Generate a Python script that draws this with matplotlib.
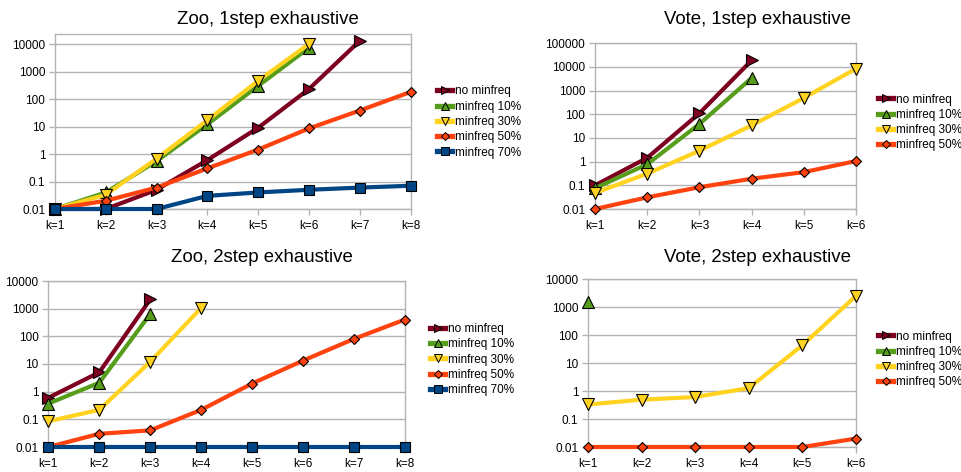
import matplotlib
matplotlib.use("Agg")
import matplotlib.pyplot as plt
from matplotlib.lines import Line2D
import numpy as np

plt.rcParams['font.family'] = ['Liberation Sans', 'DejaVu Sans']

series_names = ["no minfreq", "minfreq 10%", "minfreq 30%", "minfreq 50%", "minfreq 70%"]
colors = ["#7e0021", "#579d1c", "#ffd320", "#ff420e", "#004586"]
markers = [">", "^", "v", "D", "s"]
plot_ms = {">": 8.5, "^": 8.5, "v": 8.5, "D": 5.3, "s": 7.7}
legend_ms = {">": 5.5, "^": 5.5, "v": 5.5, "D": 3.9, "s": 5.8}

k_labels_8 = ["k=1", "k=2", "k=3", "k=4", "k=5", "k=6", "k=7", "k=8"]
k_labels_6 = ["k=1", "k=2", "k=3", "k=4", "k=5", "k=6"]

# Zoo, 1step exhaustive
zoo1_no = [0.01, 0.01, 0.05, 0.6, 9, 230, 13000]
zoo1_10 = [0.01, 0.04, 0.55, 12, 300, 7300]
zoo1_30 = [0.01, 0.033, 0.68, 17, 460, 10000]
zoo1_50 = [0.01, 0.02, 0.06, 0.3, 1.45, 8.5, 38, 180]
zoo1_70 = [0.01, 0.01, 0.01, 0.03, 0.04, 0.05, 0.06, 0.07]

# Vote, 1step exhaustive
vote1_no = [0.1, 1.45, 110, 19000]
vote1_10 = [0.075, 0.78, 39, 3400]
vote1_30 = [0.048, 0.31, 2.9, 34, 490, 8500]
vote1_50 = [0.01, 0.031, 0.083, 0.19, 0.36, 1.06]

# Zoo, 2step exhaustive
zoo2_no = [0.6, 5, 2150]
zoo2_10 = [0.37, 2.1, 640]
zoo2_30 = [0.085, 0.22, 12, 1070]
zoo2_50 = [0.01, 0.03, 0.04, 0.22, 1.97, 13.3, 81, 405]
zoo2_70 = [0.01, 0.01, 0.01, 0.01, 0.01, 0.01, 0.01, 0.01]

# Vote, 2step exhaustive
vote2_no = []
vote2_10 = [1520]
vote2_30 = [0.33, 0.49, 0.61, 1.27, 43, 2500]
vote2_50 = [0.01, 0.01, 0.01, 0.01, 0.01, 0.02]

ytick_vals = [0.01, 0.1, 1, 10, 100, 1000, 10000, 100000]
ytick_labels = ["0.01", "0.1", "1", "10", "100", "1000", "10000", "100000"]

W, H = 961, 472
fig = plt.figure(figsize=(W / 100, H / 100), dpi=100)

GRID = "#b3b3b3"


def make_ax(l, t, r, b):
    return fig.add_axes([l / W, 1 - b / H, (r - l) / W, (b - t) / H])


def panel(box, title, title_xy, data, klabels, ytop, nticks, legend_xy, nseries):
    ax = make_ax(*box)
    ax.set_yscale("log")
    for i, vals in enumerate(data):
        if len(vals) == 0:
            continue
        x = np.arange(len(vals))
        ax.plot(x, vals, color=colors[i], lw=3.0, marker=markers[i],
                markersize=plot_ms[markers[i]],
                markerfacecolor=colors[i], markeredgecolor="black",
                markeredgewidth=0.8, clip_on=False, zorder=3 + i * 0.1,
                solid_joinstyle="round")
    ax.set_xlim(0, len(klabels) - 1)
    ax.set_ylim(0.01, ytop)
    ax.set_xticks(range(len(klabels)))
    ax.set_xticklabels(klabels)
    ax.set_yticks(ytick_vals[:nticks])
    ax.set_yticklabels(ytick_labels[:nticks])
    ax.minorticks_off()
    ax.yaxis.grid(True, color=GRID, lw=1.0)
    ax.set_axisbelow(True)
    for s in ax.spines.values():
        s.set_color(GRID)
        s.set_linewidth(1.0)
    ax.tick_params(axis="both", colors=GRID, labelcolor="black",
                   labelsize=8.5, length=4, width=1.0, direction="out", pad=3)
    ax.tick_params(axis="x", pad=4)
    fig.text(title_xy[0] / W, 1 - title_xy[1] / H, title, ha="center",
             va="center", fontsize=13.4)
    handles = []
    for i in range(nseries):
        handles.append(Line2D([0], [0], color=colors[i], lw=3.8,
                              marker=markers[i],
                              markersize=legend_ms[markers[i]],
                              markerfacecolor=colors[i],
                              markeredgecolor="black", markeredgewidth=0.7))
    fig.legend(handles, series_names[:nseries], loc="center left",
               bbox_to_anchor=(legend_xy[0] / W, 1 - legend_xy[1] / H),
               frameon=False, fontsize=8.5, handlelength=1.3,
               handletextpad=0.25, labelspacing=0.28, borderpad=0,
               borderaxespad=0)
    return ax


panel((55, 34.3, 410.5, 209), "Zoo, 1step exhaustive", (268, 19),
      [zoo1_no, zoo1_10, zoo1_30, zoo1_50, zoo1_70], k_labels_8,
      10 ** 4.353, 7, (437, 122), 5)
panel((595, 43.3, 856, 209), "Vote, 1step exhaustive", (757, 20),
      [vote1_no, vote1_10, vote1_30, vote1_50], k_labels_6,
      1e5, 8, (878, 122.5), 4)
panel((48.3, 281, 405, 447), "Zoo, 2step exhaustive", (262, 257),
      [zoo2_no, zoo2_10, zoo2_30, zoo2_50, zoo2_70], k_labels_8,
      1e4, 7, (430, 359.5), 5)
panel((588, 279, 856, 447), "Vote, 2step exhaustive", (757, 257),
      [vote2_no, vote2_10, vote2_30, vote2_50], k_labels_6,
      1e4, 7, (878, 359.5), 4)

fig.savefig("out.png", dpi=100, facecolor="white")
